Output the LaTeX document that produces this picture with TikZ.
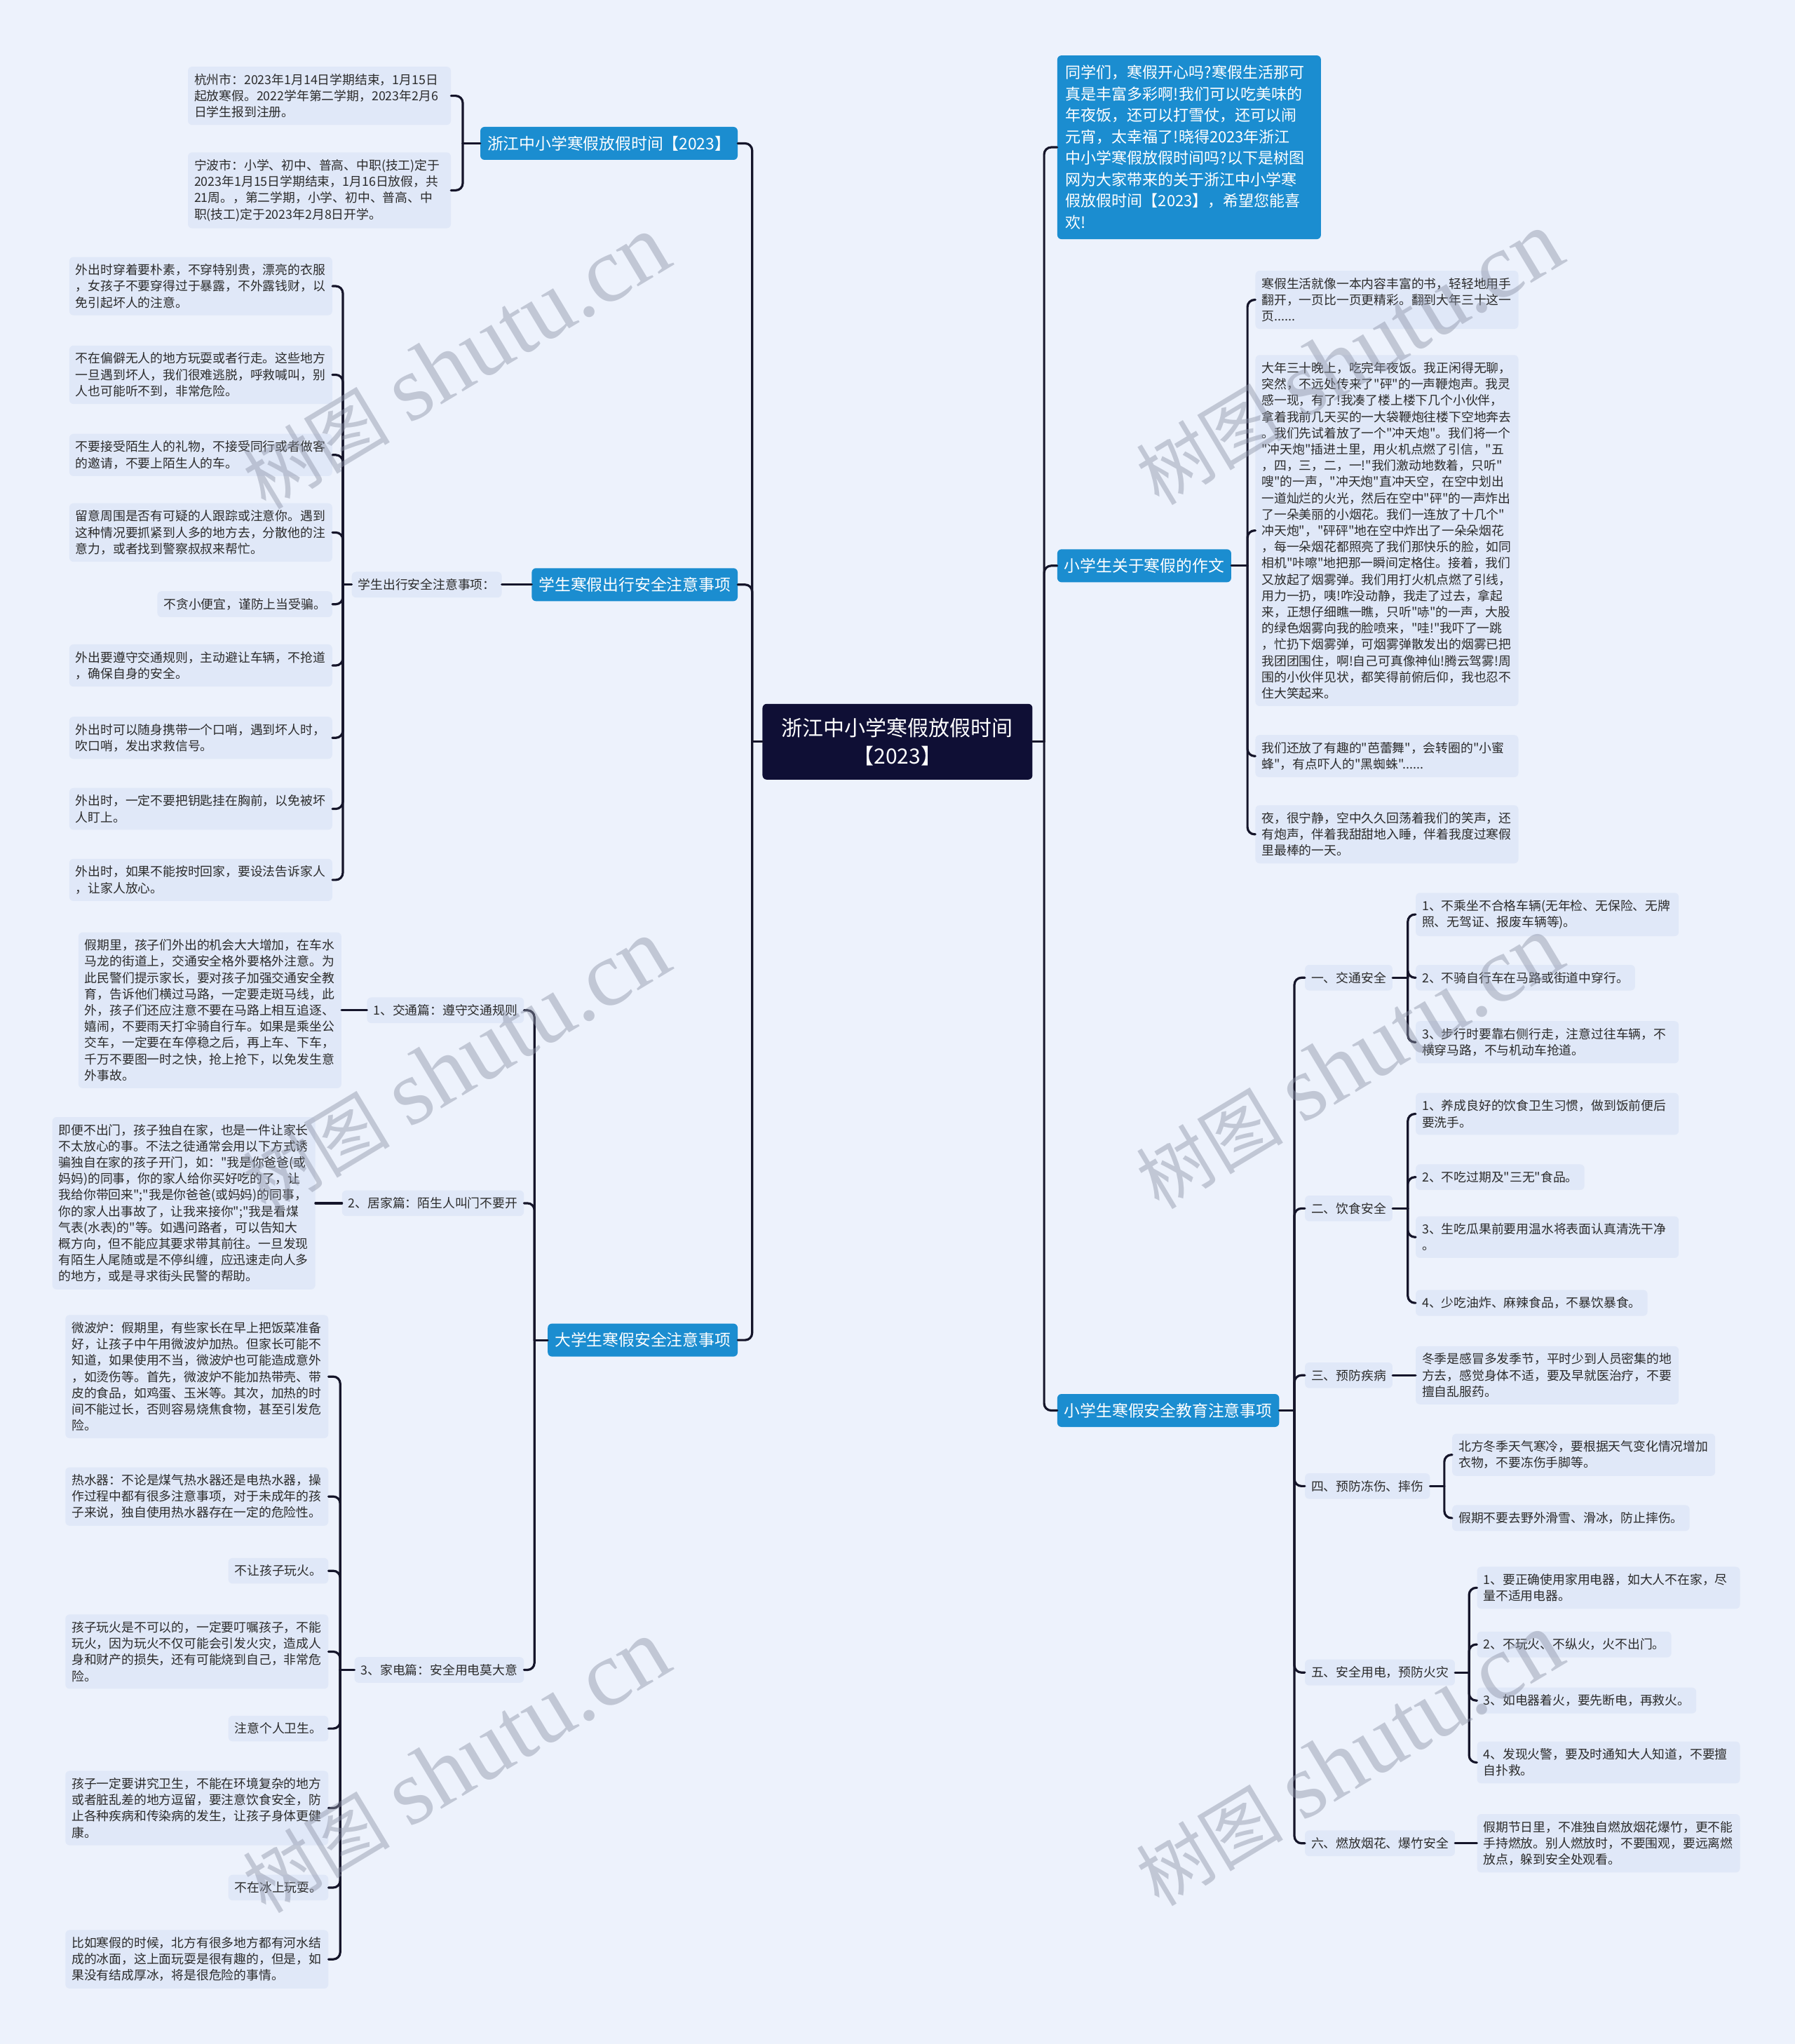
\documentclass[tikz,border=0pt]{standalone}
\usepackage{fontspec}
\setmainfont{Noto Sans CJK SC}
\newfontfamily\cjk{Noto Sans CJK SC}
\newfontfamily\wmlatin{Liberation Serif}
\definecolor{bgc}{HTML}{EDF2FC}
\definecolor{leafc}{HTML}{E0E8F8}
\definecolor{bluec}{HTML}{1B8DD0}
\definecolor{darkc}{HTML}{0F0F35}
\definecolor{linec}{HTML}{15152A}
\definecolor{wmc}{HTML}{8C93A6}
\definecolor{txtc}{HTML}{2B2B2B}
\tikzset{
  leaf/.style={fill=leafc, rounded corners=6pt, inner xsep=9pt, inner ysep=10pt, text=txtc,
    font=\cjk\fontsize{17.8}{23.2}\selectfont, align=left},
  leafw/.style={leaf, text width=357pt},
  branch/.style={fill=bluec, rounded corners=6pt, text=white, inner xsep=10pt,
    font=\cjk\fontsize{22.8}{28}\selectfont, minimum height=47pt},
  conn/.style={draw=linec, line width=3.2pt, rounded corners=10pt, line cap=round},
  wm/.style={rotate=31, text=wmc, opacity=0.45}
}
\begin{document}
\begin{tikzpicture}[x=1.859pt,y=-1.859pt]
\fill[bgc] (0,0) rectangle (1377,1568);
\useasboundingbox (0,0) rectangle (1377,1568);

% ---------- center ----------
\node[fill=darkc, rounded corners=6pt, text=white, minimum width=385pt, minimum height=108pt,
  align=center, font=\cjk\fontsize{30}{40}\selectfont] (c) at (688.5,569) {浙江中小学寒假放假时间\\【2023】};
\coordinate (jl) at (577,569);
\coordinate (jr) at (801,569);

% ---------- left branch 1 ----------
\node[branch, anchor=east] (b1) at (566,110) {浙江中小学寒假放假时间【2023】};
\node[leafw, anchor=east] (b1a) at (346,73.5) {杭州市：2023年1月14日学期结束，1月15日\\起放寒假。2022学年第二学期，2023年2月6\\日学生报到注册。};
\node[leafw, anchor=east] (b1b) at (346,146) {宁波市：小学、初中、普高、中职(技工)定于\\2023年1月15日学期结束，1月16日放假，共\\21周。，第二学期，小学、初中、普高、中\\职(技工)定于2023年2月8日开学。};
\coordinate (j1) at (355,110);

% ---------- left branch 2 ----------
\node[branch, anchor=east] (b2) at (566,448.5) {学生寒假出行安全注意事项};
\node[leaf, anchor=east] (b2s) at (385,448.5) {学生出行安全注意事项：};
\coordinate (j2) at (263,448.5);
\node[leafw, anchor=east] (l1) at (255,219.5) {外出时穿着要朴素，不穿特别贵，漂亮的衣服\\，女孩子不要穿得过于暴露，不外露钱财，以\\免引起坏人的注意。};
\node[leafw, anchor=east] (l2) at (255,287.5) {不在偏僻无人的地方玩耍或者行走。这些地方\\一旦遇到坏人，我们很难逃脱，呼救喊叫，别\\人也可能听不到，非常危险。};
\node[leafw, anchor=east] (l3) at (255,349) {不要接受陌生人的礼物，不接受同行或者做客\\的邀请，不要上陌生人的车。};
\node[leafw, anchor=east] (l4) at (255,408.5) {留意周围是否有可疑的人跟踪或注意你。遇到\\这种情况要抓紧到人多的地方去，分散他的注\\意力，或者找到警察叔叔来帮忙。};
\node[leaf, anchor=east] (l5) at (255,463.5) {不贪小便宜，谨防上当受骗。};
\node[leafw, anchor=east] (l6) at (255,510.5) {外出要遵守交通规则，主动避让车辆，不抢道\\，确保自身的安全。};
\node[leafw, anchor=east] (l7) at (255,566) {外出时可以随身携带一个口哨，遇到坏人时，\\吹口哨，发出求救信号。};
\node[leafw, anchor=east] (l8) at (255,620.5) {外出时，一定不要把钥匙挂在胸前，以免被坏\\人盯上。};
\node[leafw, anchor=east] (l9) at (255,675) {外出时，如果不能按时回家，要设法告诉家人\\，让家人放心。};

% ---------- left branch 3 ----------
\node[branch, anchor=east] (b3) at (566,1028) {大学生寒假安全注意事项};
\coordinate (j3) at (410,1028);
\node[leaf, anchor=east] (s1) at (402,775) {1、交通篇：遵守交通规则};
\node[leafw, anchor=east] (s1a) at (262,775) {假期里，孩子们外出的机会大大增加，在车水\\马龙的街道上，交通安全格外要格外注意。为\\此民警们提示家长，要对孩子加强交通安全教\\育，告诉他们横过马路，一定要走斑马线，此\\外，孩子们还应注意不要在马路上相互追逐、\\嬉闹，不要雨天打伞骑自行车。如果是乘坐公\\交车，一定要在车停稳之后，再上车、下车，\\千万不要图一时之快，抢上抢下，以免发生意\\外事故。};
\node[leaf, anchor=east] (s2) at (402,923) {2、居家篇：陌生人叫门不要开};
\node[leafw, anchor=east] (s2a) at (242,923) {即便不出门，孩子独自在家，也是一件让家长\\不太放心的事。不法之徒通常会用以下方式诱\\骗独自在家的孩子开门，如："我是你爸爸(或\\妈妈)的同事，你的家人给你买好吃的了，让\\我给你带回来";"我是你爸爸(或妈妈)的同事，\\你的家人出事故了，让我来接你";"我是看煤\\气表(水表)的"等。如遇问路者，可以告知大\\概方向，但不能应其要求带其前往。一旦发现\\有陌生人尾随或是不停纠缠，应迅速走向人多\\的地方，或是寻求街头民警的帮助。};
\node[leaf, anchor=east] (s3) at (402,1281) {3、家电篇：安全用电莫大意};
\coordinate (j33) at (261,1281);
\node[leafw, anchor=east] (s3a) at (252,1056) {微波炉：假期里，有些家长在早上把饭菜准备\\好，让孩子中午用微波炉加热。但家长可能不\\知道，如果使用不当，微波炉也可能造成意外\\，如烫伤等。首先，微波炉不能加热带壳、带\\皮的食品，如鸡蛋、玉米等。其次，加热的时\\间不能过长，否则容易烧焦食物，甚至引发危\\险。};
\node[leafw, anchor=east] (s3b) at (252,1148) {热水器：不论是煤气热水器还是电热水器，操\\作过程中都有很多注意事项，对于未成年的孩\\子来说，独自使用热水器存在一定的危险性。};
\node[leaf, anchor=east] (s3c) at (252,1205) {不让孩子玩火。};
\node[leafw, anchor=east] (s3d) at (252,1267) {孩子玩火是不可以的，一定要叮嘱孩子，不能\\玩火，因为玩火不仅可能会引发火灾，造成人\\身和财产的损失，还有可能烧到自己，非常危\\险。};
\node[leaf, anchor=east] (s3e) at (252,1326) {注意个人卫生。};
\node[leafw, anchor=east] (s3f) at (252,1387) {孩子一定要讲究卫生，不能在环境复杂的地方\\或者脏乱差的地方逗留，要注意饮食安全，防\\止各种疾病和传染病的发生，让孩子身体更健\\康。};
\node[leaf, anchor=east] (s3g) at (252,1448) {不在冰上玩耍。};
\node[leafw, anchor=east] (s3h) at (252,1503) {比如寒假的时候，北方有很多地方都有河水结\\成的冰面，这上面玩耍是很有趣的，但是，如\\果没有结成厚冰，将是很危险的事情。};

% ---------- right branch 1 (intro) ----------
\node[fill=bluec, rounded corners=6pt, text=white, anchor=west, inner xsep=12pt, inner ysep=14pt,
  text width=352pt, align=left, font=\cjk\fontsize{22}{30.5}\selectfont] (r1) at (811,113)
  {同学们，寒假开心吗?寒假生活那可\\真是丰富多彩啊!我们可以吃美味的\\年夜饭，还可以打雪仗，还可以闹\\元宵，太幸福了!晓得2023年浙江\\中小学寒假放假时间吗?以下是树图\\网为大家带来的关于浙江中小学寒\\假放假时间【2023】，希望您能喜\\欢!};

% ---------- right branch 2 (essay) ----------
\node[branch, anchor=west] (r2) at (811,434) {小学生关于寒假的作文};
\coordinate (j5) at (957,434);
\node[leafw, anchor=west] (e1) at (963,230) {寒假生活就像一本内容丰富的书，轻轻地用手\\翻开，一页比一页更精彩。翻到大年三十这一\\页......};
\node[leafw, anchor=west] (e2) at (963,407) {大年三十晚上，吃完年夜饭。我正闲得无聊，\\突然，不远处传来了"砰"的一声鞭炮声。我灵\\感一现，有了!我凑了楼上楼下几个小伙伴，\\拿着我前几天买的一大袋鞭炮往楼下空地奔去\\。我们先试着放了一个"冲天炮"。我们将一个\\"冲天炮"插进土里，用火机点燃了引信，"五\\，四，三，二，一!"我们激动地数着，只听"\\嗖"的一声，"冲天炮"直冲天空，在空中划出\\一道灿烂的火光，然后在空中"砰"的一声炸出\\了一朵美丽的小烟花。我们一连放了十几个"\\冲天炮"，"砰砰"地在空中炸出了一朵朵烟花\\，每一朵烟花都照亮了我们那快乐的脸，如同\\相机"咔嚓"地把那一瞬间定格住。接着，我们\\又放起了烟雾弹。我们用打火机点燃了引线，\\用力一扔，咦!咋没动静，我走了过去，拿起\\来，正想仔细瞧一瞧，只听"哧"的一声，大股\\的绿色烟雾向我的脸喷来，"哇!"我吓了一跳\\，忙扔下烟雾弹，可烟雾弹散发出的烟雾已把\\我团团围住，啊!自己可真像神仙!腾云驾雾!周\\围的小伙伴见状，都笑得前俯后仰，我也忍不\\住大笑起来。};
\node[leafw, anchor=west] (e3) at (963,580) {我们还放了有趣的"芭蕾舞"，会转圈的"小蜜\\蜂"，有点吓人的"黑蜘蛛"......};
\node[leafw, anchor=west] (e4) at (963,640) {夜，很宁静，空中久久回荡着我们的笑声，还\\有炮声，伴着我甜甜地入睡，伴着我度过寒假\\里最棒的一天。};

% ---------- right branch 3 (safety) ----------
\node[branch, anchor=west] (r3) at (811,1082) {小学生寒假安全教育注意事项};
\coordinate (j6) at (993,1082);
\node[leaf, anchor=west] (t1) at (1001,750) {一、交通安全};
\coordinate (jt1) at (1080,750);
\node[leafw, anchor=west] (t1a) at (1086,701.5) {1、不乘坐不合格车辆(无年检、无保险、无牌\\照、无驾证、报废车辆等)。};
\node[leaf, anchor=west] (t1b) at (1086,750) {2、不骑自行车在马路或街道中穿行。};
\node[leafw, anchor=west] (t1c) at (1086,799.5) {3、步行时要靠右侧行走，注意过往车辆，不\\横穿马路，不与机动车抢道。};
\node[leaf, anchor=west] (t2) at (1001,927) {二、饮食安全};
\coordinate (jt2) at (1080,927);
\node[leafw, anchor=west] (t2a) at (1086,854.5) {1、养成良好的饮食卫生习惯，做到饭前便后\\要洗手。};
\node[leaf, anchor=west] (t2b) at (1086,903) {2、不吃过期及"三无"食品。};
\node[leafw, anchor=west] (t2c) at (1086,949) {3、生吃瓜果前要用温水将表面认真清洗干净\\。};
\node[leaf, anchor=west] (t2d) at (1086,999.5) {4、少吃油炸、麻辣食品，不暴饮暴食。};
\node[leaf, anchor=west] (t3) at (1001,1055) {三、预防疾病};
\node[leafw, anchor=west] (t3a) at (1086,1055) {冬季是感冒多发季节，平时少到人员密集的地\\方去，感觉身体不适，要及早就医治疗，不要\\擅自乱服药。};
\node[leaf, anchor=west] (t4) at (1001,1140) {四、预防冻伤、摔伤};
\coordinate (jt4) at (1108,1140);
\node[leafw, anchor=west] (t4a) at (1114,1116) {北方冬季天气寒冷，要根据天气变化情况增加\\衣物，不要冻伤手脚等。};
\node[leaf, anchor=west] (t4b) at (1114,1164.5) {假期不要去野外滑雪、滑冰，防止摔伤。};
\node[leaf, anchor=west] (t5) at (1001,1283) {五、安全用电，预防火灾};
\coordinate (jt5) at (1127,1283);
\node[leafw, anchor=west] (t5a) at (1133,1218) {1、要正确使用家用电器，如大人不在家，尽\\量不适用电器。};
\node[leaf, anchor=west] (t5b) at (1133,1261.5) {2、不玩火、不纵火，火不出门。};
\node[leaf, anchor=west] (t5c) at (1133,1304.5) {3、如电器着火，要先断电，再救火。};
\node[leafw, anchor=west] (t5d) at (1133,1352) {4、发现火警，要及时通知大人知道，不要擅\\自扑救。};
\node[leaf, anchor=west] (t6) at (1001,1414) {六、燃放烟花、爆竹安全};
\node[leafw, anchor=west] (t6a) at (1133,1414) {假期节日里，不准独自燃放烟花爆竹，更不能\\手持燃放。别人燃放时，不要围观，要远离燃\\放点，躲到安全处观看。};

% ---------- connectors ----------
\draw[conn] (c.west) -- (jl);
\foreach \n in {b1,b2,b3} \draw[conn] (jl) |- (\n.east);
\draw[conn] (c.east) -- (jr);
\foreach \n in {r1,r2,r3} \draw[conn] (jr) |- (\n.west);

\draw[conn] (b1.west) -- (j1);
\foreach \n in {b1a,b1b} \draw[conn] (j1) |- (\n.east);
\draw[conn] (b2.west) -- (b2s.east);
\draw[conn] (b2s.west) -- (j2);
\foreach \n in {l1,l2,l3,l4,l5,l6,l7,l8,l9} \draw[conn] (j2) |- (\n.east);
\draw[conn] (b3.west) -- (j3);
\foreach \n in {s1,s2,s3} \draw[conn] (j3) |- (\n.east);
\draw[conn] (s1.west) -- (s1a.east);
\draw[conn] (s2.west) -- (s2a.east);
\draw[conn] (s3.west) -- (j33);
\foreach \n in {s3a,s3b,s3c,s3d,s3e,s3f,s3g,s3h} \draw[conn] (j33) |- (\n.east);

\draw[conn] (r2.east) -- (j5);
\foreach \n in {e1,e2,e3,e4} \draw[conn] (j5) |- (\n.west);
\draw[conn] (r3.east) -- (j6);
\foreach \n in {t1,t2,t3,t4,t5,t6} \draw[conn] (j6) |- (\n.west);
\draw[conn] (t1.east) -- (jt1);
\foreach \n in {t1a,t1b,t1c} \draw[conn] (jt1) |- (\n.west);
\draw[conn] (t2.east) -- (jt2);
\foreach \n in {t2a,t2b,t2c,t2d} \draw[conn] (jt2) |- (\n.west);
\draw[conn] (t3.east) -- (t3a.west);
\draw[conn] (t4.east) -- (jt4);
\foreach \n in {t4a,t4b} \draw[conn] (jt4) |- (\n.west);
\draw[conn] (t5.east) -- (jt5);
\foreach \n in {t5a,t5b,t5c,t5d} \draw[conn] (jt5) |- (\n.west);
\draw[conn] (t6.east) -- (t6a.west);

% ---------- watermarks ----------
\foreach \px/\py [count=\i] in {350/278, 350/818, 350/1355, 1035/275, 1035/815, 1035/1350}
  \node[wm] (wm\i) at (\px,\py) {\cjk\fontsize{105}{110}\selectfont 树图\hspace{28pt}{\wmlatin\fontsize{132}{140}\selectfont shutu.cn}};
\end{tikzpicture}
\end{document}
